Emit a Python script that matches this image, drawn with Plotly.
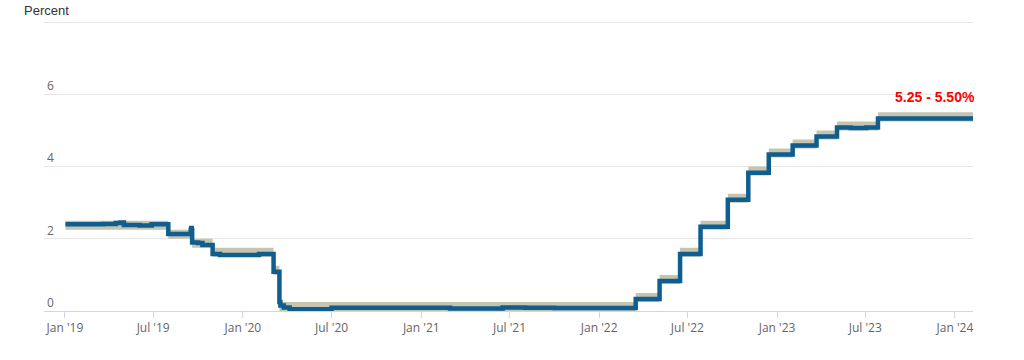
import plotly.graph_objects as go

# Federal funds target range (change dates)
range_dates = ['2019-01-02', '2019-08-01', '2019-09-19', '2019-10-31', '2020-03-04', '2020-03-16',
               '2022-03-17', '2022-05-05', '2022-06-16', '2022-07-28', '2022-09-22', '2022-11-03',
               '2022-12-15', '2023-02-02', '2023-03-23', '2023-05-04', '2023-07-27', '2024-02-07']
range_lower = [2.25, 2.00, 1.75, 1.50, 1.00, 0.00, 0.25, 0.75, 1.50, 2.25, 3.00, 3.75,
               4.25, 4.50, 4.75, 5.00, 5.25, 5.25]
range_upper = [2.50, 2.25, 2.00, 1.75, 1.25, 0.25, 0.50, 1.00, 1.75, 2.50, 3.25, 4.00,
               4.50, 4.75, 5.00, 5.25, 5.50, 5.50]

# Effective federal funds rate (change points)
effr_dates = ['2019-01-02', '2019-02-20', '2019-03-20', '2019-04-15', '2019-04-25', '2019-05-02',
              '2019-06-03', '2019-06-28', '2019-07-08', '2019-08-01', '2019-09-16', '2019-09-17',
              '2019-09-18', '2019-09-19', '2019-10-01', '2019-10-10', '2019-10-31', '2019-11-15',
              '2020-01-02', '2020-02-03', '2020-03-04', '2020-03-16', '2020-03-18', '2020-03-25',
              '2020-04-06', '2020-06-01', '2020-07-01', '2020-12-01', '2021-03-01', '2021-06-17',
              '2021-08-02', '2021-10-01', '2022-03-17', '2022-05-05', '2022-06-16', '2022-07-28',
              '2022-09-22', '2022-11-03', '2022-12-15', '2023-02-02', '2023-03-23', '2023-05-04',
              '2023-06-01', '2023-07-03', '2023-07-27', '2024-02-07']
effr_values = [2.40, 2.40, 2.41, 2.44, 2.45, 2.38,
               2.37, 2.40, 2.40, 2.13, 2.25, 2.30,
               2.25, 1.90, 1.88, 1.83, 1.58, 1.55,
               1.55, 1.58, 1.09, 0.25, 0.15, 0.10,
               0.05, 0.05, 0.09, 0.09, 0.07, 0.10,
               0.09, 0.08, 0.33, 0.83, 1.58, 2.33,
               3.08, 3.83, 4.33, 4.58, 4.83, 5.08,
               5.07, 5.08, 5.33, 5.33]

tick_dates = ['2019-01-01', '2019-07-01', '2020-01-01', '2020-07-01', '2021-01-01', '2021-07-01',
              '2022-01-01', '2022-07-01', '2023-01-01', '2023-07-01', '2024-01-01']
tick_labels = ["Jan '19", "Jul '19", "Jan '20", "Jul '20", "Jan '21", "Jul '21",
               "Jan '22", "Jul '22", "Jan '23", "Jul '23", "Jan '24"]
y_ticks = [0, 2, 4, 6, 8]
y_labels = ['0', '2', '4', '6', '']

band_color = '#c6c3ae'
line_color = '#0f5e8f'
tick_font = 'Open Sans, Arial, Liberation Sans'

fig = go.Figure()
fig.add_trace(go.Scatter(x=range_dates, y=range_lower, mode='lines', line=dict(width=0, shape='hv'),
                         showlegend=False, hoverinfo='skip'))
fig.add_trace(go.Scatter(x=range_dates, y=range_upper, mode='lines', line=dict(width=0, shape='hv'),
                         fill='tonexty', fillcolor=band_color, showlegend=False, hoverinfo='skip'))
fig.add_trace(go.Scatter(x=effr_dates, y=effr_values, mode='lines',
                         line=dict(color=line_color, width=4.5, shape='hv'), showlegend=False))

fig.add_annotation(x='2023-11-21', y=5.92, xref='x', yref='y', text='<b>5.25 - 5.50%</b>',
                   showarrow=False, font=dict(family='Arial, Liberation Sans', size=14, color='#ff0000'),
                   xanchor='center', yanchor='middle')
fig.add_annotation(x=-22 / 929, y=1.035, xref='paper', yref='paper', text='Percent', showarrow=False,
                   font=dict(family='Arial, Liberation Sans', size=13, color='#333333'),
                   xanchor='left', yanchor='middle')

fig.update_layout(
    width=1024, height=360,
    margin=dict(l=44, r=51, t=21, b=49),
    paper_bgcolor='white', plot_bgcolor='white',
    font=dict(family=tick_font, size=12, color='#666666'),
    xaxis=dict(range=['2018-11-19', '2024-02-07'], tickvals=tick_dates, ticktext=tick_labels,
               showgrid=False, showline=True, linecolor='#ccd6eb', linewidth=1,
               ticks='outside', ticklen=6, tickcolor='#ccd6eb', tickwidth=1,
               tickfont=dict(family=tick_font, size=12, color='#666666'), zeroline=False),
    yaxis=dict(range=[0, 8.03], tickvals=y_ticks, ticktext=y_labels, showgrid=True,
               gridcolor='#e6e6e6', gridwidth=1, zeroline=False, showline=False,
               ticks='', ticklabelposition='inside top',
               tickfont=dict(family=tick_font, size=12, color='#666666')),
)

# remove the browser's default 8px body margin so the figure fills the window exactly
fig.write_html('out.html', config={'displayModeBar': False},
               post_script="document.body.style.margin='0';")
